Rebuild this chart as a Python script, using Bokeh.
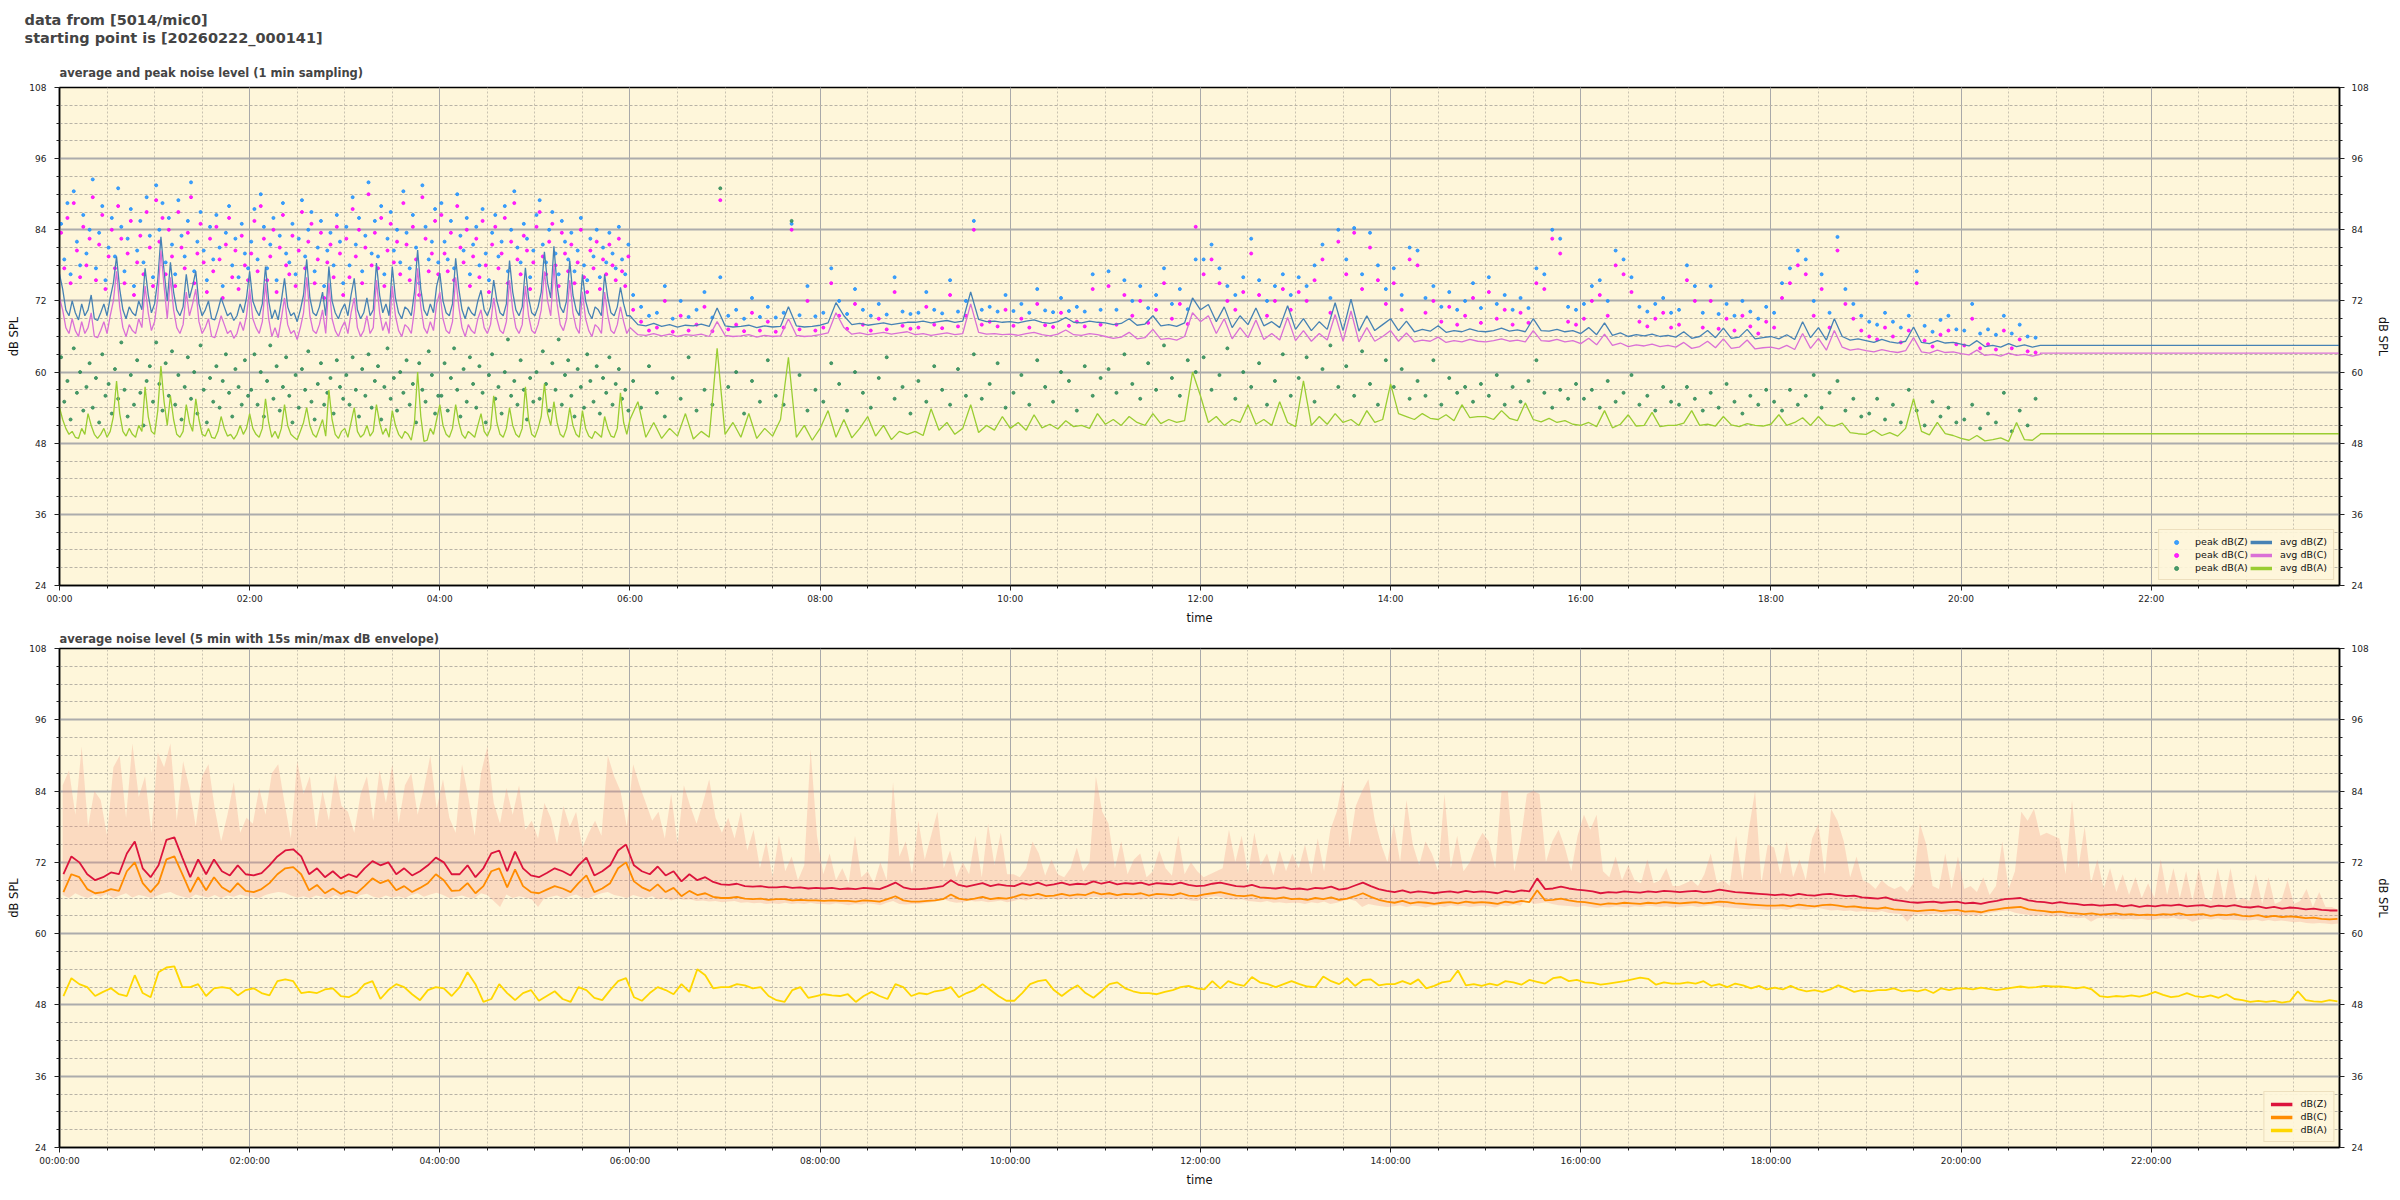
from bokeh.plotting import figure
from bokeh.models import (FixedTicker, LinearAxis, Range1d, Title, Legend, LegendItem,
                          CustomJSTickFormatter)
from bokeh.layouts import column
from bokeh.embed import file_html
from bokeh.resources import INLINE

NAN = float("nan")

# ======================= top panel data =======================
# 00:00-06:00, every 2 min
avg_z_early = [
    76.5, 74.0, 70.5, 69.5, 72.0, 70.0, 68.8, 71.5, 69.5, 70.5, 73.0, 69.0, 68.7, 70.0, 71.5, 69.5, 72.5, 75.0, 79.5, 74.0, 70.5, 69.0, 71.0, 70.0, 69.5, 72.0, 70.5, 77.5, 73.0, 70.0,
    71.5, 75.5, 82.8, 77.0, 72.0, 78.5, 73.5, 70.5, 69.5, 71.0, 76.5, 72.5, 74.5, 77.0, 71.5, 69.5, 70.5, 72.0, 69.0, 68.8, 70.5, 72.5, 71.0, 69.5, 70.0, 68.7, 69.5, 71.5, 70.0, 72.5,
    77.0, 72.0, 70.5, 69.5, 71.5, 77.8, 72.0, 69.0, 70.5, 68.8, 72.0, 75.8, 71.0, 69.5, 70.0, 68.5, 70.5, 73.0, 79.0, 72.5, 70.0, 69.5, 71.0, 73.5, 69.5, 77.8, 72.0, 70.0, 69.0, 70.5,
    71.5, 69.5, 73.0, 75.8, 70.5, 69.0, 70.0, 72.5, 69.5, 70.5, 78.4, 73.0, 70.0, 71.5, 69.5, 77.8, 72.5, 70.0, 69.0, 71.0, 70.5, 69.5, 73.5, 80.6, 74.0, 70.5, 69.5, 71.5, 70.0, 74.5,
    76.7, 72.0, 70.0, 69.5, 71.5, 79.2, 74.0, 70.5, 69.0, 71.0, 70.0, 69.5, 72.0, 73.8, 70.5, 69.5, 71.0, 75.5, 72.0, 70.0, 69.5, 71.5, 78.8, 73.5, 70.5, 69.5, 71.0, 77.6, 72.5, 70.0,
    69.5, 71.0, 73.5, 80.3, 75.0, 72.5, 81.2, 74.5, 71.0, 70.0, 72.0, 78.8, 73.0, 70.5, 69.5, 76.5, 72.0, 70.0, 69.0, 71.0, 70.5, 69.5, 76.5, 72.5, 70.0, 69.5, 71.0, 74.3, 71.5, 69.5,
]
avg_c_early = [
    72.5, 70.5, 67.5, 66.5, 69.0, 67.0, 66.0, 68.5, 66.5, 67.5, 70.0, 66.0, 65.8, 67.0, 68.5, 66.5, 69.5, 72.0, 77.0, 71.0, 67.5, 66.0, 68.0, 67.0, 66.5, 69.0, 67.5, 74.5, 70.0, 67.0,
    68.5, 72.5, 80.5, 74.5, 69.0, 76.0, 70.5, 67.5, 66.5, 68.0, 73.5, 69.5, 71.5, 74.0, 68.5, 66.5, 67.5, 69.0, 66.0, 65.8, 67.5, 69.5, 68.0, 66.5, 67.0, 65.7, 66.5, 68.5, 67.0, 69.5,
    74.0, 69.0, 67.5, 66.5, 68.5, 75.0, 69.0, 66.0, 67.5, 65.8, 69.0, 72.5, 68.0, 66.5, 67.0, 65.5, 67.5, 70.0, 76.0, 69.5, 67.0, 66.5, 68.0, 70.5, 66.5, 75.0, 69.0, 67.0, 66.0, 67.5,
    68.5, 66.5, 70.0, 72.5, 67.5, 66.0, 67.0, 69.5, 66.5, 67.5, 75.5, 70.0, 67.0, 68.5, 66.5, 74.5, 69.5, 67.0, 66.0, 68.0, 67.5, 66.5, 70.5, 77.5, 71.0, 67.5, 66.5, 68.5, 67.0, 71.5,
    73.5, 69.0, 67.0, 66.5, 68.5, 76.0, 71.0, 67.5, 66.0, 68.0, 67.0, 66.5, 69.0, 70.5, 67.5, 66.5, 68.0, 72.5, 69.0, 67.0, 66.5, 68.5, 75.5, 70.5, 67.5, 66.5, 68.0, 74.5, 69.5, 67.0,
    66.5, 68.0, 70.5, 77.0, 72.0, 69.5, 78.0, 71.5, 68.0, 67.0, 69.0, 75.5, 70.0, 67.5, 66.5, 73.5, 69.0, 67.0, 66.0, 68.0, 67.5, 66.5, 73.5, 69.5, 67.0, 66.5, 68.0, 71.0, 68.5, 66.5,
]
avg_a_early = [
    54.0, 52.0, 50.5, 49.5, 50.0, 49.0, 48.8, 50.5, 49.5, 53.0, 51.0, 49.5, 48.8, 49.5, 50.5, 49.0, 50.0, 52.5, 58.5, 53.0, 50.0, 49.2, 50.5, 49.5, 49.0, 51.0, 50.0, 57.5, 52.5, 50.0,
    49.5, 53.5, 61.0, 55.0, 51.0, 56.0, 52.0, 49.5, 49.0, 50.0, 54.5, 51.5, 50.0, 55.5, 52.0, 49.5, 49.2, 50.5, 49.0, 48.8, 50.0, 52.5, 50.5, 49.2, 49.5, 48.7, 49.5, 51.0, 49.5, 50.5,
    53.0, 50.5, 49.5, 49.0, 50.5, 55.5, 51.5, 49.0, 50.0, 48.8, 50.5, 54.5, 51.0, 49.5, 49.0, 48.6, 50.0, 51.5, 54.0, 51.0, 49.5, 49.0, 50.5, 52.0, 49.2, 57.0, 52.0, 49.5, 48.8, 50.0,
    50.5, 49.0, 51.5, 54.0, 50.0, 49.0, 49.5, 51.0, 49.2, 50.0, 54.5, 51.5, 49.5, 50.5, 49.0, 53.5, 51.0, 49.5, 48.8, 50.0, 49.5, 48.5, 51.5, 60.0, 52.5, 48.3, 48.5, 50.5, 49.5, 52.0,
    54.5, 51.0, 49.5, 49.0, 50.5, 54.5, 51.5, 49.5, 48.8, 50.0, 49.5, 49.0, 51.0, 53.0, 50.0, 49.2, 50.5, 56.0, 51.5, 49.5, 49.0, 50.5, 54.0, 51.0, 49.5, 49.0, 50.5, 57.5, 52.0, 49.5,
    49.0, 50.5, 52.5, 58.0, 53.0, 51.0, 55.0, 51.5, 49.5, 49.0, 50.5, 54.0, 51.0, 49.5, 49.0, 53.5, 50.5, 49.2, 48.8, 50.0, 49.5, 49.0, 52.5, 50.5, 49.2, 49.0, 50.5, 56.5, 51.5, 49.5,
]
peak_z_early = [
    85.0, 79.0, 88.5, 76.5, 90.5, 82.0, 78.0, 86.5, 80.0, 84.0, 92.5, 77.5, 83.5, 88.0, 75.5, 81.0, 86.0, 79.5, 91.0, 84.5, 77.0, 82.5, 87.5, 74.5, 80.5, 85.5, 78.5, 89.5, 83.0, 76.0,
    91.5, 84.0, 88.5, 78.5, 86.0, 81.5, 76.5, 89.0, 83.0, 79.5, 85.5, 92.0, 77.0, 82.0, 87.0, 80.5, 75.5, 84.5, 79.0, 86.5, 81.0, 74.5, 83.5, 88.0, 78.0, 82.5, 76.0, 85.0, 80.0, 77.5,
    82.0, 87.5, 79.0, 90.0, 84.5, 77.5, 81.5, 86.0, 75.5, 83.0, 88.5, 80.0, 78.5, 85.0, 76.5, 82.5, 89.0, 79.5, 84.0, 87.0, 77.0, 81.0, 85.5, 74.5, 80.5, 83.5, 78.0, 86.5, 82.0, 75.0,
    84.5, 78.0, 89.5, 81.5, 86.0, 77.0, 83.0, 92.0, 80.0, 85.5, 79.5, 88.0, 76.5, 82.5, 87.0, 80.5, 84.0, 78.5, 90.5, 83.5, 77.5, 86.5, 81.0, 75.0, 91.5, 84.5, 79.0, 82.0, 87.5, 78.5,
    88.5, 82.0, 79.0, 85.5, 77.5, 90.0, 83.0, 80.5, 86.0, 76.5, 81.5, 84.5, 78.0, 87.5, 80.0, 75.5, 83.5, 86.5, 79.5, 82.0, 88.0, 77.0, 84.0, 90.5, 81.0, 78.5, 85.0, 82.5, 76.0, 80.5,
    86.5, 89.0, 81.5, 78.5, 84.0, 87.0, 80.0, 76.5, 85.5, 82.0, 79.0, 83.5, 77.0, 80.5, 86.0, 78.0, 75.5, 82.5, 79.5, 84.0, 76.0, 81.0, 78.5, 83.5, 80.0, 77.5, 84.5, 79.0, 76.5, 81.5,
]
peak_c_early = [
    83.5, 77.5, 86.0, 75.0, 88.5, 80.5, 76.0, 84.5, 78.0, 82.5, 89.5, 75.5, 81.5, 86.5, 74.0, 79.5, 84.0, 77.5, 88.0, 82.5, 75.0, 80.0, 85.5, 73.0, 78.5, 83.0, 76.5, 87.0, 81.0, 74.5,
    89.0, 82.0, 86.0, 76.5, 84.0, 79.5, 74.5, 87.0, 81.0, 77.5, 83.5, 89.5, 75.0, 80.0, 85.0, 78.5, 73.5, 82.5, 77.0, 84.5, 79.0, 72.5, 81.5, 86.0, 76.0, 80.5, 74.0, 83.0, 78.0, 75.5,
    80.0, 85.5, 77.0, 88.0, 82.5, 75.5, 79.5, 84.0, 73.5, 81.0, 86.5, 78.0, 76.5, 83.0, 74.5, 80.5, 87.0, 77.5, 82.0, 85.0, 75.0, 79.0, 83.5, 72.5, 78.5, 81.5, 76.0, 84.5, 80.0, 73.0,
    82.5, 76.0, 87.5, 79.5, 84.0, 75.0, 81.0, 90.0, 78.0, 83.5, 77.5, 86.0, 74.5, 80.5, 85.0, 78.5, 82.0, 76.5, 88.5, 81.5, 75.5, 84.5, 79.0, 73.0, 89.5, 82.5, 77.0, 80.0, 85.5, 76.5,
    86.5, 80.0, 77.0, 83.5, 75.5, 88.0, 81.0, 78.5, 84.0, 74.5, 79.5, 82.5, 76.0, 85.5, 78.0, 73.5, 81.5, 84.5, 77.5, 80.0, 86.0, 75.0, 82.0, 88.5, 79.0, 76.5, 83.0, 80.5, 74.0, 78.5,
    84.5, 87.0, 79.5, 76.5, 82.0, 85.0, 78.0, 74.5, 83.5, 80.0, 77.0, 81.5, 75.0, 78.5, 84.0, 76.0, 73.5, 80.5, 77.5, 82.0, 74.0, 79.0, 76.5, 81.5, 78.0, 75.5, 82.5, 77.0, 74.5, 79.5,
]
peak_a_early = [
    62.5, 55.0, 58.5, 52.0, 64.0, 56.5, 60.0, 53.5, 57.5, 61.5, 54.0, 59.0, 51.5, 63.0, 56.0, 58.0, 53.0, 60.5, 55.5, 65.0, 57.0, 52.5, 59.5, 54.5, 62.0, 56.5, 51.0, 58.5, 61.0, 55.0,
    65.0, 58.0, 53.5, 61.5, 56.0, 63.5, 54.5, 59.5, 52.0, 57.5, 62.5, 55.5, 60.0, 53.0, 64.5, 57.0, 51.5, 59.0, 55.0, 61.0, 54.0, 58.5, 63.0, 56.5, 52.5, 60.5, 57.5, 54.5, 62.0, 56.0,
    57.0, 63.0, 54.5, 60.0, 52.5, 58.5, 64.5, 55.5, 61.0, 53.5, 57.5, 62.5, 56.0, 51.5, 59.5, 54.0, 60.5, 57.0, 63.5, 55.0, 52.0, 58.0, 61.5, 54.5, 56.5, 59.0, 53.0, 62.0, 57.5, 55.5,
    59.5, 54.5, 62.5, 57.0, 52.5, 60.5, 56.0, 63.0, 54.0, 58.5, 61.0, 52.0, 57.5, 64.0, 55.5, 59.0, 53.5, 60.0, 56.5, 62.0, 54.5, 58.0, 51.5, 61.5, 57.0, 55.0, 63.5, 59.5, 53.0, 56.0,
    56.0, 61.5, 53.5, 59.0, 64.0, 57.0, 52.5, 60.5, 55.0, 62.5, 58.0, 54.0, 61.0, 56.5, 51.5, 59.5, 63.0, 55.5, 57.5, 53.0, 60.0, 65.5, 56.0, 58.5, 54.5, 62.0, 57.0, 52.0, 59.0, 55.0,
    60.0, 55.5, 63.5, 58.0, 53.5, 61.5, 57.0, 65.5, 54.5, 59.5, 62.0, 56.0, 52.5, 60.5, 57.5, 54.0, 63.0, 58.5, 55.0, 61.0, 53.0, 59.0, 56.5, 62.5, 54.5, 58.0, 60.5, 55.5, 57.0, 53.5,
]

# 06:00-20:50, every 5 min
avg_z_late = [
    69.5, 68.0, 67.8, 68.2, 67.7, 68.0, 67.6, 67.9, 67.8, 68.1, 67.7, 70.8,
    67.8, 67.6, 67.7, 67.9, 67.5, 67.8, 67.6, 67.7, 71.0, 67.8, 67.6, 67.7,
    67.9, 68.3, 71.7, 69.5, 68.0, 68.2, 67.9, 68.1, 68.3, 68.0, 68.2, 68.4,
    68.4, 68.6, 68.3, 68.5, 68.7, 68.4, 68.6, 73.5, 68.9, 68.5, 68.6, 68.4,
    68.5, 68.3, 68.6, 68.8, 68.4, 68.2, 68.5, 69.2, 68.4, 68.3, 68.6, 68.4,
    68.3, 68.0, 68.2, 69.0, 67.9, 68.1, 69.5, 67.8, 68.0, 67.7, 68.3, 72.5,
    70.5, 71.4, 68.5, 71.0, 67.5, 69.5, 68.0, 70.8, 67.8, 68.5, 67.5, 71.2,
    67.2, 69.0, 67.0, 68.5, 67.2, 71.7, 67.0, 72.3, 66.9, 69.5, 67.0, 68.0,
    69.0, 67.0, 68.6, 66.8, 67.2, 66.9, 67.8, 66.7, 67.0, 66.8, 67.3, 66.9,
    66.8, 67.0, 67.4, 66.9, 67.1, 66.8, 69.0, 67.0, 66.9, 67.2, 66.8, 67.0,
    66.5, 67.5, 66.3, 68.3, 66.2, 66.6, 66.0, 66.3, 66.1, 66.4, 66.0, 66.2,
    65.9, 66.8, 65.7, 66.0, 67.0, 65.8, 67.4, 65.7, 65.9, 67.2, 65.6, 65.8,
    66.0, 65.6, 66.3, 65.5, 68.5, 65.8, 67.5, 65.4, 69.0, 66.0, 65.4, 65.6,
    65.3, 65.0, 65.5, 65.1, 64.9, 65.2, 67.6, 65.0, 64.8, 65.3, 64.9, 65.0,
    64.7, 64.4, 65.3, 64.3, 64.5, 64.2, 64.8, 64.3, 64.6, 64.2, 64.5,
]
avg_c_late = [
    67.5, 66.3, 66.2, 66.5, 66.1, 66.4, 66.0, 66.3, 66.2, 66.4, 66.0, 68.5,
    66.2, 66.0, 66.1, 66.3, 65.9, 66.2, 66.0, 66.1, 69.0, 66.2, 66.0, 66.1,
    66.3, 66.6, 70.0, 67.5, 66.4, 66.6, 66.3, 66.5, 66.7, 66.4, 66.6, 66.8,
    66.3, 66.5, 66.2, 66.4, 66.6, 66.3, 66.5, 71.5, 66.7, 66.4, 66.5, 66.3,
    66.4, 66.2, 66.5, 66.7, 66.3, 66.1, 66.4, 67.1, 66.3, 66.2, 66.5, 66.3,
    66.0, 65.7, 65.9, 66.7, 65.6, 65.8, 67.2, 65.5, 65.7, 65.4, 66.0, 70.0,
    68.5, 69.5, 66.5, 69.0, 65.6, 67.5, 65.8, 68.8, 65.5, 66.5, 65.4, 69.2,
    65.3, 67.0, 65.2, 66.5, 65.4, 69.7, 65.2, 70.3, 65.1, 67.5, 65.2, 66.0,
    67.0, 65.2, 66.6, 65.1, 65.4, 65.2, 65.9, 65.0, 65.3, 65.1, 65.5, 65.2,
    65.1, 65.3, 65.6, 65.2, 65.4, 65.1, 67.0, 65.3, 65.2, 65.5, 65.1, 65.3,
    64.8, 65.7, 64.6, 66.4, 64.5, 64.9, 64.3, 64.6, 64.4, 64.7, 64.3, 64.5,
    64.2, 65.0, 64.0, 64.3, 65.2, 64.1, 65.6, 64.0, 64.2, 65.4, 63.9, 64.1,
    64.2, 63.9, 64.5, 63.8, 66.5, 64.0, 65.7, 63.7, 67.0, 64.2, 63.7, 63.9,
    63.6, 63.4, 63.8, 63.5, 63.3, 63.6, 65.8, 63.4, 63.2, 63.7, 63.3, 63.4,
    63.1, 62.9, 63.7, 62.8, 63.0, 62.7, 63.2, 62.8, 63.0, 62.7, 63.0,
]
avg_a_late = [
    52.0, 55.0, 49.0, 51.5, 48.8, 50.5, 49.2, 53.0, 48.7, 50.0, 49.0, 64.0,
    49.5, 51.5, 49.0, 53.0, 48.8, 50.5, 49.2, 52.0, 62.5, 49.0, 51.0, 48.5,
    50.5, 53.5, 49.0, 52.0, 48.9, 50.5, 52.5, 49.2, 51.0, 48.6, 50.0, 49.5,
    50.0, 49.3, 53.8, 50.2, 51.5, 49.5, 50.5, 54.5, 49.8, 51.0, 50.2, 52.5,
    50.5, 51.5, 50.2, 52.8, 50.6, 51.2, 50.4, 51.8, 50.8, 51.0, 50.5, 53.0,
    51.2, 52.0, 51.0, 52.5, 51.5, 51.0, 53.0, 51.3, 52.0, 51.5, 51.8, 60.0,
    56.0, 51.5, 52.5, 51.0, 52.0, 51.5, 54.5, 51.2, 52.0, 51.0, 55.0, 51.5,
    50.8, 58.5, 51.0, 52.5, 51.2, 53.0, 51.5, 52.0, 51.0, 53.5, 51.5, 52.0,
    58.0, 53.0, 52.5, 52.0, 53.0, 52.2, 52.0, 52.8, 51.8, 54.5, 52.3, 52.5,
    52.5, 52.0, 53.5, 52.2, 51.8, 54.8, 52.0, 51.6, 52.2, 51.5, 51.8, 51.2,
    51.0, 51.5, 50.8, 53.5, 50.6, 51.2, 52.8, 50.9, 51.0, 53.2, 50.8, 51.0,
    51.0, 51.4, 53.5, 51.0, 51.2, 50.9, 52.5, 51.1, 50.8, 51.3, 51.0, 50.9,
    51.2, 52.8, 51.0, 51.5, 52.3, 51.0, 52.5, 51.1, 50.9, 51.4, 49.8, 49.6,
    49.5, 50.2, 49.3, 49.8, 49.2, 50.5, 55.5, 50.0, 49.4, 51.5, 49.6, 49.3,
    48.8, 48.5, 49.3, 48.4, 48.6, 48.9, 48.3, 51.5, 48.6, 48.5, 49.5,
]
peak_z_late = [
    73.0, 71.0, 69.5, 70.0, 74.5, 69.0, 72.0, 69.3, 70.5, 73.5, 69.2, 76.0,
    69.5, 70.5, 69.0, 72.5, 69.3, 71.0, 69.2, 70.0, 85.0, 69.6, 74.5, 69.4,
    70.0, 77.5, 72.0, 69.8, 74.0, 70.5, 69.5, 71.5, 69.7, 76.0, 70.2, 69.8,
    70.0, 73.5, 70.5, 69.9, 75.5, 70.2, 72.0, 85.5, 70.5, 71.0, 70.2, 73.0,
    70.3, 71.5, 70.0, 74.0, 70.4, 70.1, 72.5, 70.3, 71.0, 70.2, 76.5, 70.5,
    77.0, 70.5, 75.5, 72.0, 74.5, 70.8, 73.0, 77.5, 71.5, 74.0, 70.6, 79.0,
    79.0, 81.5, 77.5, 74.5, 73.0, 76.0, 82.5, 75.5, 72.0, 74.5, 76.5, 73.0,
    76.0, 74.5, 78.0, 81.5, 72.5, 84.0, 79.0, 84.3, 76.5, 83.5, 78.0, 74.0,
    77.5, 73.0, 81.0, 80.5, 72.5, 74.5, 71.0, 73.5, 70.5, 72.0, 75.0, 70.8,
    76.0, 71.5, 73.0, 70.5, 72.5, 70.8, 77.5, 76.5, 84.0, 82.5, 71.0, 70.5,
    71.5, 74.5, 75.5, 72.0, 80.5, 79.0, 76.0, 71.0, 70.2, 71.5, 72.5, 70.0,
    70.5, 78.0, 74.5, 70.0, 74.5, 69.8, 71.5, 69.5, 72.0, 70.2, 69.0, 71.0,
    70.0, 75.0, 77.5, 80.5, 79.0, 72.0, 76.5, 70.0, 82.8, 74.0, 71.5, 69.5,
    68.5, 68.0, 70.0, 68.5, 67.5, 69.5, 77.0, 67.8, 66.8, 68.8, 69.5, 67.2,
    67.0, 71.5, 66.5, 67.2, 66.3, 69.5, 66.5, 68.0, 66.0, 65.8,
]
peak_c_late = [
    70.5, 68.5, 67.0, 67.5, 72.0, 66.8, 69.5, 67.0, 68.0, 71.0, 66.9, 89.0,
    67.2, 68.0, 66.9, 70.0, 67.0, 68.5, 66.8, 67.5, 84.0, 67.2, 72.0, 67.0,
    67.5, 75.0, 69.5, 67.3, 71.5, 68.0, 67.0, 69.0, 67.2, 73.5, 67.8, 67.3,
    67.5, 71.0, 68.0, 67.4, 73.0, 67.7, 69.5, 84.0, 68.0, 68.5, 67.7, 70.5,
    67.8, 69.0, 67.5, 71.5, 67.9, 67.6, 70.0, 67.8, 68.5, 67.7, 74.0, 68.0,
    74.5, 68.0, 73.0, 69.5, 72.0, 68.3, 70.5, 75.0, 69.0, 71.5, 68.1, 84.5,
    76.5, 79.0, 75.0, 72.0, 70.5, 73.5, 80.0, 73.0, 69.5, 72.0, 74.0, 70.5,
    73.5, 72.0, 75.5, 79.0, 70.0, 82.0, 76.5, 83.5, 74.0, 81.0, 75.5, 71.5,
    75.0, 70.5, 79.0, 78.0, 70.0, 72.0, 68.5, 71.0, 68.0, 69.5, 72.5, 68.3,
    73.5, 69.0, 70.5, 68.0, 70.0, 68.3, 75.0, 74.0, 82.5, 80.0, 68.5, 68.0,
    69.0, 72.0, 73.0, 69.5, 78.0, 76.5, 73.5, 68.5, 67.7, 69.0, 70.0, 67.5,
    68.0, 75.5, 72.0, 67.5, 72.0, 67.3, 69.0, 67.0, 69.5, 67.7, 66.5, 68.5,
    67.5, 72.5, 75.0, 78.0, 76.5, 69.5, 74.0, 67.5, 80.5, 71.5, 69.0, 67.0,
    66.0, 65.5, 67.5, 66.0, 65.0, 67.0, 75.0, 65.3, 64.3, 66.3, 67.0, 64.7,
    64.5, 69.0, 64.0, 64.7, 63.8, 67.0, 64.0, 65.5, 63.5, 63.3,
]
peak_a_late = [
    58.5, 54.0, 61.0, 56.5, 52.5, 59.0, 55.5, 62.5, 53.5, 57.0, 54.5, 91.0,
    57.5, 60.0, 53.0, 58.5, 55.0, 62.0, 56.0, 54.5, 85.5, 59.5, 53.5, 57.0,
    55.0, 61.5, 58.0, 53.5, 60.0, 56.5, 54.0, 59.0, 62.5, 55.5, 57.5, 53.0,
    58.5, 55.0, 61.0, 57.0, 54.5, 60.5, 56.0, 63.0, 55.5, 58.0, 61.5, 54.0,
    56.5, 59.5, 54.5, 62.0, 57.5, 55.0, 60.0, 58.5, 53.5, 61.0, 56.0, 59.0,
    60.5, 56.5, 63.0, 58.0, 55.5, 61.5, 57.0, 64.5, 59.0, 56.0, 62.0, 60.0,
    62.5, 57.0, 59.5, 64.0, 55.5, 60.0, 57.5, 61.5, 54.5, 58.5, 63.0, 56.0,
    59.0, 62.5, 55.0, 60.5, 64.5, 57.5, 61.0, 56.0, 63.5, 58.0, 54.5, 62.0,
    57.5, 60.5, 55.5, 58.5, 56.0, 62.0, 54.5, 59.0, 56.5, 57.5, 55.0, 58.0,
    56.0, 59.5, 54.5, 57.5, 55.0, 58.5, 62.0, 56.5, 54.0, 57.0, 55.5, 58.0,
    55.5, 57.0, 54.0, 58.5, 55.0, 56.5, 59.5, 54.5, 56.0, 53.5, 57.5, 55.0,
    54.5, 57.5, 55.5, 53.5, 56.5, 54.0, 58.0, 55.0, 53.0, 56.0, 54.5, 57.0,
    55.0, 53.5, 57.0, 54.5, 56.0, 59.5, 54.0, 56.5, 58.5, 53.5, 55.5, 52.5,
    53.0, 55.5, 52.0, 54.5, 51.5, 57.0, 53.5, 51.0, 55.0, 52.5, 54.0, 51.5,
    52.0, 54.5, 50.5, 53.0, 51.5, 56.5, 50.0, 53.5, 51.0, 55.5,
]
# levels held after the recording stops (until end of day)
hold_z, hold_c, hold_a = 64.5, 63.2, 49.6

# ======================= bottom panel data (5 min average) =======================
bot_z = [
    70.0, 73.0, 72.0, 70.0, 69.0, 69.5, 70.3, 70.0, 73.5, 75.5, 71.0, 69.5,
    71.5, 75.8, 76.2, 72.8, 69.5, 72.5, 70.0, 72.5, 70.5, 69.8, 71.5, 70.0,
    69.8, 70.2, 71.5, 73.0, 74.0, 74.2, 73.0, 70.0, 71.0, 69.5, 70.5, 69.3,
    70.0, 69.5, 71.0, 72.2, 71.5, 72.0, 70.0, 71.0, 69.8, 70.5, 71.5, 72.8,
    72.0, 70.0, 70.0, 71.5, 69.5, 71.0, 73.5, 74.0, 70.5, 73.8, 71.0, 69.8,
    69.5, 70.2, 71.0, 70.5, 69.8, 71.5, 72.8, 69.8, 70.5, 71.5, 74.0, 75.0,
    71.5, 70.5, 70.0, 71.3, 69.8, 70.5, 68.8, 70.0, 69.0, 69.5, 68.7, 68.3,
    68.2, 68.4, 68.0, 67.9, 68.0, 67.8, 67.8, 67.9, 67.7, 67.8, 67.6, 67.7,
    67.6, 67.7, 67.5, 67.6, 67.5, 67.7, 67.6, 67.5, 68.0, 68.6, 67.8, 67.5,
    67.5, 67.6, 67.8, 68.0, 69.0, 68.2, 67.9, 68.2, 68.5, 68.0, 68.3, 68.1,
    68.0, 68.5, 68.2, 68.6, 68.1, 68.3, 68.6, 68.2, 68.4, 68.3, 68.8, 68.4,
    68.7, 68.3, 68.5, 68.4, 68.6, 68.2, 68.5, 68.4, 68.3, 68.6, 68.2, 68.0,
    68.1, 68.4, 68.6, 68.3, 68.0, 67.9, 68.2, 67.8, 67.7, 67.6, 67.8, 67.5,
    67.6, 67.4, 67.7, 67.6, 67.9, 67.4, 67.6, 68.1, 68.6, 68.0, 67.5, 67.2,
    67.0, 67.3, 66.9, 67.1, 67.0, 66.8, 67.0, 67.1, 66.9, 67.2, 67.0, 67.1,
    67.0, 66.8, 67.2, 67.0, 67.3, 67.1, 69.3, 67.5, 67.6, 67.9, 67.6, 67.4,
    67.3, 67.1, 66.8, 67.0, 66.9, 67.1, 67.0, 66.9, 67.1, 67.0, 67.2, 67.1,
    67.0, 67.1, 67.2, 67.0, 67.1, 67.4, 67.2, 67.0, 66.9, 66.8, 66.7, 66.6,
    66.5, 66.6, 66.4, 66.7, 66.5, 66.4, 66.6, 66.7, 66.5, 66.3, 66.4, 66.1,
    66.0, 65.9, 66.1, 65.7, 65.5, 65.3, 65.2, 65.3, 65.4, 65.2, 65.3, 65.4,
    65.1, 65.2, 65.0, 65.3, 65.5, 65.8, 65.9, 66.0, 65.6, 65.4, 65.3, 65.1,
    65.3, 65.1, 65.0, 64.8, 64.9, 64.7, 64.8, 64.9, 64.6, 64.8, 64.5, 64.7,
    64.6, 64.8, 64.7, 64.9, 64.6, 64.7, 64.8, 64.5, 64.7, 64.6, 64.8, 64.5,
    64.4, 64.6, 64.3, 64.5, 64.2, 64.4, 64.3, 64.1, 64.2, 64.0, 63.9, 63.9,
]
bot_c = [
    67.0, 70.0, 69.5, 67.5, 66.8, 67.0, 67.5, 67.2, 70.5, 72.0, 68.5, 67.0,
    68.5, 72.5, 73.0, 70.0, 67.0, 69.5, 67.3, 69.5, 67.8, 67.0, 68.5, 67.2,
    67.0, 67.5, 68.5, 70.0, 71.0, 71.2, 70.0, 67.3, 68.2, 66.8, 67.6, 66.7,
    67.2, 66.8, 68.0, 69.3, 68.5, 69.0, 67.3, 68.0, 67.0, 67.7, 68.5, 70.0,
    69.0, 67.2, 67.3, 68.5, 66.8, 68.0, 70.5, 71.0, 67.8, 70.8, 68.0, 67.0,
    66.8, 67.4, 68.0, 67.6, 67.0, 68.5, 69.8, 67.0, 67.6, 68.5, 71.0, 72.0,
    68.8, 67.8, 67.2, 68.3, 67.0, 67.7, 66.3, 67.2, 66.5, 66.8, 66.2, 66.0,
    66.0, 66.2, 65.9, 65.8, 65.9, 65.7, 65.8, 65.8, 65.6, 65.7, 65.6, 65.6,
    65.5, 65.6, 65.5, 65.5, 65.4, 65.6, 65.5, 65.4, 65.8, 66.3, 65.6, 65.4,
    65.4, 65.5, 65.6, 65.8, 66.6, 65.9, 65.7, 65.9, 66.2, 65.8, 66.0, 65.9,
    66.2, 66.6, 66.4, 66.7, 66.3, 66.4, 66.7, 66.4, 66.6, 66.5, 67.0, 66.6,
    66.8, 66.5, 66.7, 66.6, 66.8, 66.4, 66.7, 66.6, 66.5, 66.8, 66.4, 66.3,
    66.6, 66.8, 67.0, 66.7, 66.4, 66.3, 66.5, 66.1, 66.0, 65.9, 66.1, 65.8,
    65.9, 65.7, 66.0, 65.8, 66.1, 65.7, 65.9, 66.3, 66.8, 66.2, 65.7, 65.4,
    65.2, 65.5, 65.1, 65.3, 65.2, 65.0, 65.2, 65.3, 65.1, 65.4, 65.2, 65.3,
    65.2, 65.0, 65.4, 65.2, 65.5, 65.3, 67.3, 65.6, 65.7, 65.9, 65.6, 65.4,
    65.3, 65.1, 64.9, 65.1, 65.0, 65.2, 65.1, 65.0, 65.2, 65.1, 65.3, 65.2,
    65.1, 65.2, 65.3, 65.1, 65.2, 65.4, 65.3, 65.1, 65.0, 64.9, 64.8, 64.7,
    64.7, 64.8, 64.6, 64.9, 64.7, 64.6, 64.8, 64.9, 64.7, 64.5, 64.6, 64.4,
    64.3, 64.2, 64.4, 64.1, 64.0, 63.9, 63.8, 63.9, 64.0, 63.8, 63.9, 64.0,
    63.7, 63.8, 63.6, 63.9, 64.1, 64.3, 64.4, 64.5, 64.1, 63.9, 63.8, 63.6,
    63.7, 63.5, 63.4, 63.3, 63.4, 63.2, 63.3, 63.4, 63.2, 63.3, 63.1, 63.2,
    63.1, 63.3, 63.2, 63.4, 63.1, 63.2, 63.3, 63.0, 63.2, 63.1, 63.3, 63.0,
    62.9, 63.1, 62.8, 63.0, 62.8, 62.9, 62.8, 62.6, 62.7, 62.5, 62.4, 62.5,
]
bot_a = [
    49.5, 52.5, 51.5, 51.0, 49.5, 50.2, 50.8, 49.8, 49.5, 53.0, 50.0, 49.3,
    53.5, 54.3, 54.5, 51.0, 51.0, 51.5, 49.5, 50.8, 51.0, 50.8, 49.6, 50.5,
    50.8, 50.0, 49.6, 52.0, 52.3, 52.0, 50.0, 50.2, 50.0, 50.6, 50.8, 49.5,
    49.3, 50.0, 51.5, 52.0, 49.0, 50.5, 51.5, 51.0, 49.8, 48.8, 50.5, 51.0,
    50.8, 49.5, 51.0, 53.5, 51.5, 48.5, 49.0, 51.5, 50.0, 48.8, 50.0, 50.5,
    48.7, 49.5, 50.3, 49.0, 48.5, 51.0, 50.5, 49.2, 48.8, 50.5, 52.0, 52.5,
    49.3, 48.7, 50.0, 51.0, 50.5, 49.8, 51.5, 50.2, 54.0, 53.0, 50.8, 51.0,
    51.0, 51.5, 51.3, 50.8, 51.0, 49.5, 48.8, 48.5, 50.5, 51.0, 49.2, 49.5,
    49.8, 49.6, 49.5, 49.8, 48.5, 49.5, 50.2, 49.5, 49.0, 51.5, 51.0, 49.5,
    50.0, 49.8, 50.3, 50.5, 51.0, 49.3, 50.0, 50.5, 51.5, 50.5, 49.5, 48.7,
    48.7, 50.0, 51.5, 52.0, 52.2, 50.5, 49.5, 50.5, 51.3, 50.0, 49.2, 50.3,
    51.5, 51.8, 50.8, 50.3, 50.0, 50.0, 49.8, 50.2, 50.5, 51.0, 51.2, 50.8,
    50.6, 52.0, 50.8, 52.0, 51.5, 51.2, 52.7, 51.8, 51.5, 51.0, 51.5, 52.0,
    51.5, 51.1, 51.0, 52.8, 52.0, 51.5, 52.5, 51.2, 52.2, 52.3, 51.3, 51.5,
    51.5, 52.0, 51.5, 52.3, 50.8, 51.2, 51.8, 52.0, 53.8, 51.3, 51.5, 51.2,
    51.6, 51.3, 52.0, 51.8, 51.4, 52.2, 51.9, 51.6, 52.5, 52.7, 52.0, 52.2,
    51.8, 51.7, 51.4, 51.6, 51.8, 52.0, 52.3, 52.6, 52.4, 51.4, 51.8, 51.6,
    51.6, 51.8, 51.6, 52.0, 51.2, 51.5, 51.0, 51.6, 51.3, 50.8, 51.2, 50.6,
    50.9, 50.6, 51.2, 50.6, 50.3, 50.5, 50.2, 50.6, 51.3, 50.8, 50.2, 50.5,
    50.3, 50.5, 50.5, 50.8, 50.3, 50.5, 50.3, 50.6, 50.0, 50.8, 50.5, 50.8,
    50.8, 50.6, 50.9, 50.7, 50.5, 50.7, 50.9, 51.1, 50.9, 51.0, 51.2, 51.1,
    51.1, 51.0, 50.8, 51.0, 50.6, 49.5, 49.3, 49.5, 49.4, 49.6, 49.4, 49.7,
    50.2, 49.7, 49.3, 49.5, 50.0, 49.5, 49.3, 49.6, 49.2, 49.8, 49.0, 48.8,
    48.5, 48.7, 48.5, 48.7, 48.4, 48.6, 50.3, 48.8, 48.6, 48.5, 48.8, 48.6,
]
# 15 s min/max envelope (read every 4 min)
env_hi = [
    85.0, 87.5, 80.0, 91.5, 78.0, 84.0, 82.5, 76.5, 88.0, 90.0, 79.5, 92.0, 83.0, 86.5, 77.0,
    90.5, 88.0, 92.0, 79.0, 89.0, 84.5, 78.0, 86.5, 88.5, 81.0, 75.5, 80.0, 85.5, 77.0, 79.5,
    78.5, 84.5, 80.0, 87.0, 88.5, 82.0, 76.0, 89.0, 83.5, 86.5, 77.5, 84.0, 79.0, 87.0, 81.5,
    80.5, 77.0, 83.5, 86.5, 79.0, 87.5, 82.0, 88.5, 78.5, 85.0, 87.0, 80.0, 84.5, 90.0, 81.0,
    86.0, 79.5, 77.0, 88.5, 83.0, 76.5, 87.0, 91.5, 82.0, 78.5, 84.5, 80.0, 85.0, 77.5, 79.0,
    76.0, 82.0, 79.5, 75.0, 81.5, 78.0, 80.5, 74.5, 77.0, 79.0, 76.5, 90.0, 86.5, 84.0, 78.0,
    88.5, 85.0, 82.0, 79.0, 80.5, 76.0, 83.5, 75.0, 85.0, 81.5, 78.5, 82.0, 86.0, 79.5, 77.0,
    79.5, 76.0, 80.5, 74.0, 77.5, 71.0, 75.5, 69.5, 76.5, 70.5, 73.0, 69.0, 71.5, 91.0, 76.5,
    70.0, 73.5, 69.0, 71.0, 68.5, 76.5, 69.5, 70.5, 68.5, 72.0, 69.0, 85.5, 73.0, 75.5, 70.0,
    79.0, 72.5, 76.5, 80.5, 71.0, 74.0, 69.5, 72.0, 70.0, 76.5, 69.5, 78.5, 71.5, 77.0, 70.0,
    70.0, 69.5, 71.0, 75.5, 73.5, 69.8, 72.5, 70.0, 69.5, 71.0, 74.5, 70.5, 72.0, 86.5, 80.5,
    78.5, 71.0, 75.5, 70.0, 72.5, 73.5, 69.5, 70.5, 74.0, 71.0, 69.8, 76.5, 70.0, 72.0, 70.5,
    69.5, 70.0, 70.5, 71.0, 77.5, 72.0, 76.5, 70.0, 77.0, 71.5, 73.5, 69.8, 74.0, 70.5, 73.5,
    71.0, 75.0, 70.0, 76.0, 70.5, 77.5, 80.5, 86.0, 74.5, 81.5, 84.0, 86.0, 79.0, 75.0, 72.0,
    78.5, 72.0, 82.5, 75.0, 71.5, 75.5, 73.5, 70.5, 83.5, 71.0, 76.5, 70.5, 72.0, 75.0, 77.0,
    75.5, 71.0, 84.0, 84.0, 70.5, 75.5, 83.5, 84.0, 83.5, 72.0, 75.5, 77.5, 74.5, 70.5, 76.5,
    80.0, 77.5, 80.0, 70.5, 69.5, 73.0, 69.0, 71.5, 69.0, 68.5, 72.5, 68.5, 69.0, 71.0, 68.0,
    68.0, 68.5, 69.0, 68.0, 70.0, 73.5, 68.5, 69.0, 68.0, 76.5, 69.0, 77.5, 84.0, 68.5, 75.0,
    74.5, 70.0, 75.5, 69.5, 72.5, 69.0, 76.0, 78.5, 70.0, 81.0, 79.0, 75.5, 69.5, 73.0, 69.0,
    68.5, 67.5, 69.0, 68.0, 67.5, 68.0, 67.0, 68.5, 78.5, 75.0, 68.0, 67.5, 73.5, 67.5, 73.0,
    67.5, 68.0, 67.0, 69.5, 66.5, 68.0, 75.5, 67.5, 70.5, 80.5, 79.0, 81.0, 76.5, 77.0, 76.5,
    76.0, 70.0, 82.5, 71.0, 78.0, 68.5, 72.5, 67.5, 71.0, 67.0, 70.0, 66.5, 69.5, 66.0, 68.5,
    66.0, 72.5, 66.5, 71.0, 66.0, 70.5, 65.5, 71.0, 66.0, 65.5, 71.0, 65.5, 71.0, 65.5, 66.0,
    65.5, 70.0, 65.0, 69.5, 65.0, 65.5, 69.0, 65.0, 65.5, 67.5, 64.5, 67.0, 64.5, 64.5, 64.0,
]
env_lo = [
    66.5, 66.0, 66.8, 66.3, 66.0, 66.5, 66.2, 66.7, 66.0, 66.4, 66.8, 66.1, 66.5, 66.3, 66.0,
    66.4, 66.8, 67.0, 66.5, 66.2, 66.0, 66.6, 66.3, 66.1, 66.5, 66.0, 66.4, 66.2, 66.6, 66.3,
    66.2, 66.0, 66.5, 66.8, 67.0, 66.9, 66.4, 66.1, 66.3, 66.0, 66.4, 66.2, 66.0, 66.5, 66.1,
    66.3, 66.0, 66.5, 66.7, 66.2, 66.0, 66.4, 66.1, 66.3, 66.0, 66.5, 66.8, 66.2, 66.6, 66.9,
    66.5, 66.0, 66.2, 66.4, 66.1, 66.0, 66.8, 66.5, 65.5, 64.5, 66.6, 66.0, 66.3, 66.1, 65.8,
    64.5, 66.0, 66.2, 66.4, 66.0, 66.3, 66.6, 66.1, 66.0, 66.4, 66.8, 67.0, 66.5, 66.3, 66.0,
    66.5, 66.2, 66.0, 66.3, 65.8, 66.1, 65.6, 65.9, 65.7, 65.8, 65.5, 65.6, 65.4, 65.5, 65.3,
    65.4, 65.5, 65.2, 65.3, 65.1, 65.2, 65.0, 65.1, 65.0, 65.2, 65.0, 65.1, 65.0, 65.2, 65.0,
    65.0, 64.9, 65.1, 65.0, 64.8, 65.0, 64.9, 65.1, 65.0, 64.8, 65.2, 65.5, 65.0, 64.9, 65.0,
    65.0, 65.1, 65.3, 65.5, 65.8, 65.4, 65.2, 65.3, 65.6, 65.4, 65.5, 65.3, 65.4, 65.6, 65.3,
    65.5, 65.8, 65.6, 65.9, 65.7, 65.8, 66.0, 65.7, 65.9, 65.8, 66.0, 65.9, 66.1, 66.2, 66.0,
    66.0, 65.8, 66.0, 65.9, 66.1, 65.7, 65.9, 66.0, 65.8, 66.1, 65.7, 65.9, 65.8, 65.6, 65.5,
    66.0, 66.2, 66.3, 66.1, 65.8, 65.7, 65.8, 65.5, 65.4, 65.3, 65.5, 65.2, 65.3, 65.1, 65.2,
    65.2, 65.0, 65.3, 65.1, 65.4, 65.0, 65.2, 65.5, 65.8, 65.5, 64.5, 65.0, 64.8, 64.6, 64.5,
    64.6, 64.8, 64.5, 64.7, 64.6, 64.4, 64.6, 64.7, 64.5, 64.8, 64.6, 64.7, 64.5, 64.6, 64.7,
    64.6, 64.4, 64.8, 64.6, 64.9, 64.7, 66.0, 65.0, 65.1, 65.3, 65.0, 64.8, 64.7, 64.6, 64.5,
    64.7, 64.5, 64.3, 64.5, 64.4, 64.6, 64.5, 64.4, 64.6, 64.5, 64.7, 64.6, 64.5, 64.6, 64.4,
    64.5, 64.6, 64.7, 64.5, 64.6, 64.8, 64.7, 64.5, 64.4, 64.3, 64.2, 64.1, 64.2, 64.1, 64.0,
    64.1, 64.2, 64.0, 64.3, 64.1, 64.0, 64.2, 64.3, 64.1, 63.9, 64.0, 63.8, 63.9, 63.7, 63.8,
    63.7, 63.6, 63.8, 63.5, 63.4, 63.3, 62.0, 63.2, 63.3, 63.2, 63.3, 63.4, 63.2, 63.3, 63.1,
    63.1, 63.2, 63.0, 63.3, 63.5, 63.7, 63.8, 63.9, 63.5, 63.3, 63.2, 63.0, 63.1, 63.0, 62.9,
    63.0, 62.8, 62.7, 62.6, 62.7, 62.0, 62.6, 62.7, 62.5, 62.6, 62.4, 62.5, 62.4, 62.5, 62.3,
    62.4, 62.6, 62.5, 62.7, 62.4, 62.5, 62.0, 62.3, 62.5, 62.4, 62.6, 62.3, 62.4, 62.3, 62.2,
    62.2, 62.4, 62.1, 62.3, 62.1, 62.2, 62.1, 61.9, 62.0, 61.8, 61.7, 61.8, 61.7, 61.6, 61.7,
]

# ---------------- time axes (hours) ----------------
END_H = 23.98


def early_t(v, off=0):
    return [(off + 2 * i) / 60 for i in range(len(v))]


def late_t(v, off=0):
    return [(360 + off + 5 * i) / 60 for i in range(len(v))]


def series(early, late, hold=None):
    x = early_t(early) + late_t(late)
    y = early + late
    if hold is not None:
        x = x + [x[-1], END_H]
        y = y + [hold, hold]
    return x, y


def peaks(early, late):
    return early_t(early, 1) + late_t(late, 2), early + late


t_bz = [(2.5 + 5 * i) / 60 for i in range(len(bot_z))]
t_bc = [(2.5 + 5 * i) / 60 for i in range(len(bot_c))]
t_ba = [(2.5 + 5 * i) / 60 for i in range(len(bot_a))]
n_env = min(len(env_hi), len(env_lo))
t_env = [(2 + 4 * i) / 60 for i in range(n_env)]

y_major = [24, 36, 48, 60, 72, 84, 96, 108]
y_minor = list(range(24, 109, 3))
x_major = list(range(0, 23, 2))
x_minor = [0.5 * i for i in range(48)]

BG = "#FEF6DA"
FONT = "DejaVu Sans"
W = 2392
BL, BR = 59, 49


def style(p, fmt_code):
    p.background_fill_color = BG
    p.border_fill_color = "white"
    p.outline_line_color = "black"
    p.outline_line_width = 1.5
    xt = FixedTicker(ticks=x_major, minor_ticks=x_minor)
    yt = FixedTicker(ticks=y_major, minor_ticks=y_minor)
    p.xaxis.ticker = xt
    p.yaxis.ticker = yt
    p.xaxis.formatter = CustomJSTickFormatter(code=fmt_code)
    ax_r = LinearAxis(ticker=FixedTicker(ticks=y_major, minor_ticks=y_minor))
    p.add_layout(ax_r, "right")
    for ax in list(p.xaxis) + list(p.yaxis):
        ax.axis_line_color = "black"
        ax.axis_line_width = 1.5
        ax.major_tick_in = 0
        ax.major_tick_out = 5
        ax.minor_tick_in = 0
        ax.minor_tick_out = 3
        ax.major_tick_line_color = "#222222"
        ax.minor_tick_line_color = "#222222"
        ax.major_label_text_font = FONT
        ax.major_label_text_font_size = "9px"
        ax.major_label_text_color = "#222222"
        ax.axis_label_text_font = FONT
        ax.axis_label_text_font_size = "11.5px"
        ax.axis_label_text_font_style = "normal"
        ax.axis_label_text_color = "#111111"
    p.xaxis.axis_label = "time"
    p.yaxis.axis_label = "dB SPL"
    p.xaxis.major_label_standoff = 3
    p.xaxis.axis_label_standoff = 4
    p.yaxis.major_label_standoff = 8
    p.yaxis.axis_label_standoff = 5
    ax_r.major_label_standoff = 7
    ax_r.axis_label_standoff = 4
    p.xgrid.ticker = xt
    p.ygrid.ticker = yt
    p.xgrid.grid_line_color = "#a9a9a9"
    p.xgrid.grid_line_width = 1
    p.xgrid.minor_grid_line_color = "#c9c2b0"
    p.xgrid.minor_grid_line_dash = "2 2"
    p.xgrid.minor_grid_line_width = 1
    p.ygrid.grid_line_color = "#acacac"
    p.ygrid.grid_line_width = 2
    p.ygrid.minor_grid_line_color = "#b8b3a6"
    p.ygrid.minor_grid_line_dash = "3 2"
    p.ygrid.minor_grid_line_width = 1


def style_legend(lg):
    lg.label_text_font = FONT
    lg.label_text_font_size = "9.5px"
    lg.label_text_color = "#111111"
    lg.label_height = 10
    lg.label_standoff = 8
    lg.glyph_height = 10
    lg.glyph_width = 22
    lg.spacing = 2
    lg.padding = 6
    lg.margin = 5
    lg.background_fill_color = "#FEF6DA"
    lg.background_fill_alpha = 0.9
    lg.border_line_color = "#DCC79F"
    lg.border_line_width = 1.5


# ---------------- top panel ----------------
p1 = figure(width=W, height=627, x_range=Range1d(0, END_H), y_range=Range1d(24, 108),
            output_backend="svg", toolbar_location=None,
            min_border_left=BL, min_border_right=BR, min_border_bottom=39, min_border_top=84)
style(p1, "const h = Math.round(tick); return (h < 10 ? '0' : '') + h + ':00';")

pzx, pzy = peaks(peak_z_early, peak_z_late)
pcx, pcy = peaks(peak_c_early, peak_c_late)
pax, pay = peaks(peak_a_early, peak_a_late)
r_pz = p1.scatter(pzx, pzy, marker="circle", size=3.0, color="#1E90FF", alpha=0.85)
r_pc = p1.scatter(pcx, pcy, marker="circle", size=3.0, color="#FF00FF", alpha=0.85)
r_pa = p1.scatter(pax, pay, marker="circle", size=3.0, color="#2E8B57", alpha=0.85)
xz, yz = series(avg_z_early, avg_z_late, hold_z)
xc, yc = series(avg_c_early, avg_c_late, hold_c)
xa, ya = series(avg_a_early, avg_a_late, hold_a)
p1.line(xz, yz, line_color="#4682B4", line_width=1.3)
p1.line(xc, yc, line_color="#DA70D6", line_width=1.3)
p1.line(xa, ya, line_color="#9ACD32", line_width=1.3)
lz = p1.line([NAN, NAN], [NAN, NAN], line_color="#4682B4", line_width=3.5)
lc = p1.line([NAN, NAN], [NAN, NAN], line_color="#DA70D6", line_width=3.5)
la = p1.line([NAN, NAN], [NAN, NAN], line_color="#9ACD32", line_width=3.5)

leg1 = Legend(items=[LegendItem(label="peak dB(Z)", renderers=[r_pz]),
                     LegendItem(label="peak dB(C)", renderers=[r_pc]),
                     LegendItem(label="peak dB(A)", renderers=[r_pa]),
                     LegendItem(label="avg dB(Z)", renderers=[lz]),
                     LegendItem(label="avg dB(C)", renderers=[lc]),
                     LegendItem(label="avg dB(A)", renderers=[la])],
              location="bottom_right", ncols=2)
style_legend(leg1)
p1.add_layout(leg1)

p1.add_layout(Title(text="average and peak noise level (1 min sampling)", text_font=FONT,
                    text_font_size="11.5px", text_font_style="bold", align="left",
                    standoff=15, offset=0), "above")
p1.add_layout(Title(text="data from [5014/mic0]\nstarting point is [20260222_000141]",
                    text_font=FONT, text_font_size="14.5px", text_font_style="bold",
                    text_line_height=1.15, align="left", standoff=20, offset=-35), "above")

# ---------------- bottom panel ----------------
p2 = figure(width=W, height=562, x_range=Range1d(0, END_H), y_range=Range1d(24, 108),
            output_backend="svg", toolbar_location=None,
            min_border_left=BL, min_border_right=BR, min_border_bottom=39, min_border_top=0)
style(p2, "const h = Math.round(tick); return (h < 10 ? '0' : '') + h + ':00:00';")

p2.varea(x=t_env, y1=env_lo[:n_env], y2=env_hi[:n_env], fill_color="#F58A78", fill_alpha=0.26)
p2.line(t_bz, bot_z, line_color="#DC143C", line_width=1.8)
p2.line(t_bc, bot_c, line_color="#FF8C00", line_width=1.8)
p2.line(t_ba, bot_a, line_color="#FFD700", line_width=1.8)
bz = p2.line([NAN, NAN], [NAN, NAN], line_color="#DC143C", line_width=3.5)
bc = p2.line([NAN, NAN], [NAN, NAN], line_color="#FF8C00", line_width=3.5)
ba = p2.line([NAN, NAN], [NAN, NAN], line_color="#FFD700", line_width=3.5)
leg2 = Legend(items=[LegendItem(label="dB(Z)", renderers=[bz]),
                     LegendItem(label="dB(C)", renderers=[bc]),
                     LegendItem(label="dB(A)", renderers=[ba])],
              location="bottom_right")
style_legend(leg2)
p2.add_layout(leg2)
p2.add_layout(Title(text="average noise level (5 min with 15s min/max dB envelope)", text_font=FONT,
                    text_font_size="11.5px", text_font_style="bold", align="left",
                    standoff=5, offset=0), "above")

layout = column(p1, p2, spacing=0)
open("out.html", "w").write(file_html(layout, INLINE))
